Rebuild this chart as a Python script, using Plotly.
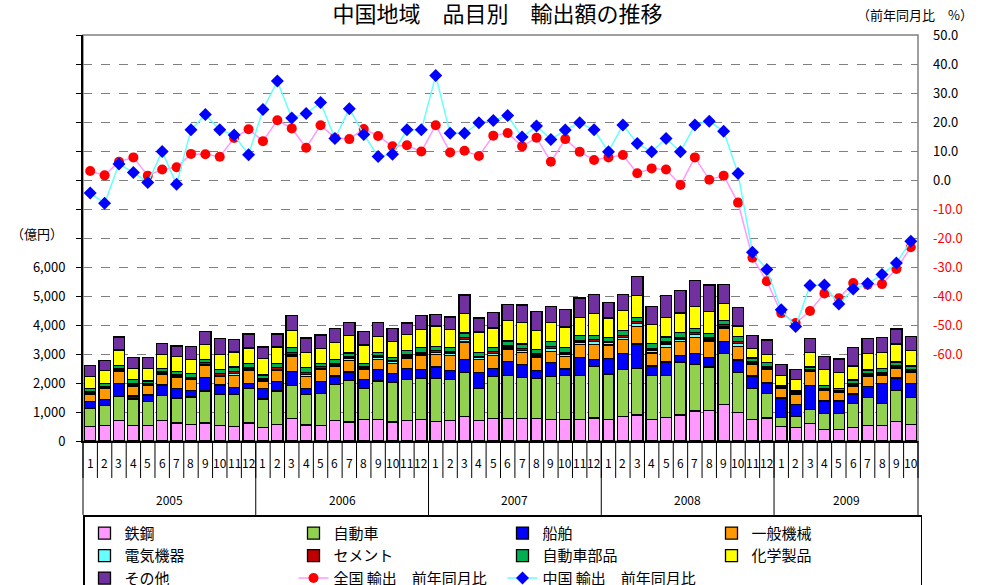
import plotly.graph_objects as go

years = ["2005", "2006", "2007", "2008", "2009"]
months_per_year = [12, 12, 12, 12, 10]
month_labels = [str(m) for n in months_per_year for m in range(1, n + 1)]
categories = [f"{y}/{m}" for y, n in zip(years, months_per_year) for m in range(1, n + 1)]

steel = [490,540,710,540,540,710,620,570,620,540, 510,620,470,570,780,550,540,710,660,750,
         750,660,710,750,670,700,840,700,780,780, 780,780,750,750,750,790,750,850,900,750,
         820,900,1030,1060,1250,990,750,790,490,470, 610,390,390,470,540,540,670,570]
auto = [630,680,830,910,830,860,860,950,1100,1070, 1100,1180,980,1150,1140,1060,1100,1240,1430,1060,
        1320,1350,1400,1410,1490,1410,1520,1100,1450,1480, 1410,1370,1480,1520,1520,1790,1560,1620,1610,1520,
        1450,1820,1600,1490,1770,1370,1060,850,320,380, 480,550,550,830,950,760,1060,920]
ship = [250,200,450,100,220,360,330,230,470,320, 240,180,370,320,480,210,400,290,290,320,
        400,320,390,310,390,320,460,560,280,470, 440,290,480,210,620,230,540,550,840,320,
        450,240,390,340,410,430,430,360,670,410, 830,440,440,320,380,680,440,490]
machinery = [250,400,400,350,320,380,380,360,430,290, 410,450,250,380,530,410,430,330,400,350,
             350,350,360,470,440,530,590,450,440,440, 430,460,380,430,430,520,460,470,610,440,
             510,470,550,560,470,480,390,470,350,350, 470,350,290,280,370,300,320,380]
electric = [40,30,40,40,30,30,40,30,30,50, 60,50,40,50,60,70,40,50,60,40,
            50,50,70,60,70,70,100,60,70,70, 60,70,100,90,90,100,80,90,100,110,
            120,90,100,70,60,90,60,50,20,20, 30,30,30,40,40,40,50,50]
cement = [40,40,50,50,40,50,50,60,50,60, 70,60,50,60,70,70,50,60,60,50,
          60,50,50,60,60,50,50,50,60,60, 60,50,60,60,60,60,50,60,60,60,
          60,60,60,50,60,60,50,50,30,30, 40,50,40,50,50,50,50,50]
parts = [100,90,120,120,90,100,120,120,100,130, 160,130,120,140,170,160,110,130,130,110,
         130,110,140,160,150,140,160,130,150,150, 160,140,170,170,160,160,130,160,150,170,
         180,160,160,130,140,180,120,130,40,60, 90,100,80,110,120,120,130,130]
chemical = [430,440,540,400,440,490,510,490,530,530, 520,540,570,570,570,510,510,590,620,630,
            550,540,560,630,700,620,680,710,670,710, 750,640,660,700,620,740,670,700,750,640,
            670,670,740,760,570,370,320,290,350,390, 510,560,540,490,570,570,620,540]
other = [380,360,450,370,370,390,370,460,450,550, 440,480,390,450,530,510,480,490,440,470,
         470,440,390,470,390,440,630,480,520,550, 600,670,550,600,680,670,540,550,660,630,
         750,790,910,920,670,630,470,490,370,360, 470,450,470,640,520,520,520,480]

japan_yoy = [3.1,1.6,6.3,7.8,1.5,3.6,4.4,9.0,8.9,8.0, 14.5,17.5,13.4,20.6,17.8,11.1,18.9,14.6,14.1,17.6,
             15.2,11.6,12.0,9.8,18.9,9.5,10.1,8.3,15.3,16.2, 11.6,14.6,6.3,14.1,9.7,6.9,7.8,8.6,2.3,4.0,
             3.6,-1.7,7.8,0.1,1.5,-7.8,-26.8,-34.9,-45.9,-49.3, -45.2,-39.1,-40.8,-35.5,-36.1,-35.9,-30.7,-23.2]
china_yoy = [-4.5,-8.0,5.5,2.6,-0.9,9.8,-1.5,17.3,22.6,17.3, 15.5,8.7,24.3,34.1,21.4,22.9,26.7,14.3,24.6,15.7,
             8.1,8.9,17.3,17.3,36.0,16.1,16.1,19.7,20.5,22.2, 14.8,18.6,14.0,17.2,19.7,17.3,9.7,19.0,12.6,9.7,
             14.3,9.7,19.0,20.3,16.8,2.2,-24.9,-30.9,-44.7,-50.5, -36.4,-36.2,-42.8,-37.6,-35.7,-32.6,-28.6,-21.1]

bar_series = [
    ("鉄鋼", steel, "#FF99FF"),
    ("自動車", auto, "#92D050"),
    ("船舶", ship, "#0000FF"),
    ("一般機械", machinery, "#FF9900"),
    ("電気機器", electric, "#66FFFF"),
    ("セメント", cement, "#C00000"),
    ("自動車部品", parts, "#00B050"),
    ("化学製品", chemical, "#FFFF00"),
    ("その他", other, "#7030A0"),
]

left_ticks = list(range(0, 14001, 1000))
left_text = [f"{v:,}" if v <= 6000 else "" for v in left_ticks]
right_ticks = list(range(-60, 51, 10))
right_text = [f"{v:.1f}" if v >= 0 else f"<span style='color:#FF0000'>{v:.1f}</span>" for v in right_ticks]

FONT = "Noto Sans CJK JP"
fig = go.Figure()
for name, vals, col in bar_series:
    fig.add_trace(go.Bar(x=categories, y=vals, name=name,
                         marker=dict(color=col, line=dict(color="#000000", width=1.3))))

fig.add_trace(go.Scatter(x=categories, y=japan_yoy, name="全国 輸出　前年同月比", yaxis="y2",
                         mode="lines+markers", line=dict(color="#FF99FF", width=1.5),
                         marker=dict(symbol="circle", size=10, color="#FF0000")))
fig.add_trace(go.Scatter(x=categories, y=china_yoy, name="中国 輸出　前年同月比", yaxis="y2",
                         mode="lines+markers", line=dict(color="#66FFFF", width=1.5),
                         marker=dict(symbol="diamond", size=10, color="#0000FF")))

n = len(categories)
shapes = []
shapes.append(dict(type="rect", xref="paper", yref="paper", x0=0, x1=1, y0=0, y1=1,
                   line=dict(color="#808080", width=1.5), layer="below"))
for k in range(n + 1):
    shapes.append(dict(type="line", xref="paper", yref="paper", x0=k / n, x1=k / n,
                       y0=0, y1=-0.091, line=dict(color="#000000", width=1)))
b = 0
bounds = [0]
for c in months_per_year:
    b += c
    bounds.append(b)
for k in bounds:
    shapes.append(dict(type="line", xref="paper", yref="paper", x0=k / n, x1=k / n,
                       y0=0, y1=-0.182, line=dict(color="#000000", width=1)))

annotations = []
for cat, lab in zip(categories, month_labels):
    annotations.append(dict(x=cat, y=-0.052, xref="x", yref="paper", text=lab, showarrow=False,
                            xanchor="center", yanchor="middle",
                            font=dict(size=12, color="#000000", family=FONT)))
for i, y in enumerate(years):
    center = (bounds[i] + bounds[i + 1]) / 2 / n
    annotations.append(dict(x=center, y=-0.143, xref="paper", yref="paper", text=y, showarrow=False,
                            xanchor="center", yanchor="middle",
                            font=dict(size=12, color="#000000", family=FONT)))
annotations.append(dict(x=-0.0216, y=0.51, xref="paper", yref="paper", text="（億円）", showarrow=False,
                        xanchor="right", yanchor="middle",
                        font=dict(size=13, color="#000000", family=FONT)))
annotations.append(dict(x=0.996, y=1.05, xref="paper", yref="paper", text="（前年同月比　%）", showarrow=False,
                        xanchor="center", yanchor="middle",
                        font=dict(size=13, color="#000000", family=FONT)))

fig.update_layout(
    width=995, height=585,
    margin=dict(l=83, r=77, t=35, b=144, autoexpand=False),
    paper_bgcolor="white", plot_bgcolor="white",
    font=dict(family=FONT, size=13, color="#000000"),
    title=dict(text="中国地域　品目別　輸出額の推移", x=0.5, xanchor="center", y=0.976, yanchor="middle",
               font=dict(size=22, family=FONT, color="#000000")),
    barmode="stack", bargap=0.22,
    xaxis=dict(type="category", range=[-0.5, n - 0.5], showticklabels=False, ticks="",
               showline=True, linecolor="#000000", linewidth=1.5, showgrid=False, zeroline=False),
    yaxis=dict(range=[0, 14000], tickvals=left_ticks, ticktext=left_text, showgrid=True,
               gridcolor="#808080", griddash="dash", gridwidth=1, zeroline=False,
               showline=True, linecolor="#000000", linewidth=2, ticks="outside", ticklen=5,
               tickcolor="#000000", ticklabelstandoff=8, tickfont=dict(size=13)),
    yaxis2=dict(range=[-90, 50], overlaying="y", side="right", tickvals=right_ticks, ticktext=right_text,
                showgrid=False, zeroline=False, showline=False, ticks="", ticklabelstandoff=14,
                tickfont=dict(size=13)),
    legend=dict(orientation="h", xref="container", x=83 / 995, xanchor="left", y=-0.183, yanchor="top",
                traceorder="normal", entrywidth=164, entrywidthmode="pixels",
                bordercolor="#000000", borderwidth=1.5, bgcolor="white",
                font=dict(size=15, family=FONT)),
    shapes=shapes, annotations=annotations,
)

fig.write_html("out.html", config={"displayModeBar": False},
               post_script="document.body.style.margin='0px';")
